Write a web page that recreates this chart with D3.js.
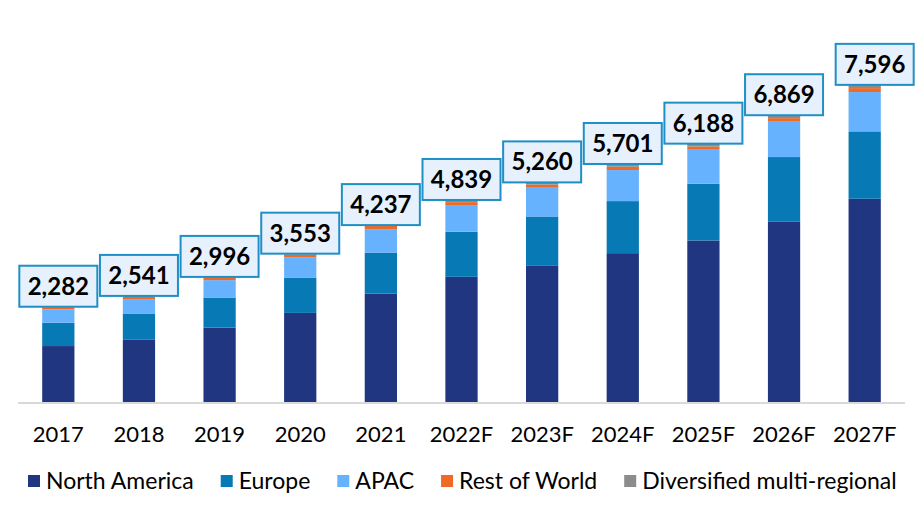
<!DOCTYPE html>
<html>
<head>
<meta charset="utf-8">
<script src="https://cdn.jsdelivr.net/npm/d3@7"></script>
<style>
  body { margin: 0; background: #fff; }
  svg text { font-family: Lato, "Open Sans", sans-serif; }
</style>
</head>
<body>
<div id="chart"></div>
<script>
// categories and series
const years = ["2017", "2018", "2019", "2020", "2021", "2022F", "2023F", "2024F", "2025F", "2026F", "2027F"];
const totals = [2282, 2541, 2996, 3553, 4237, 4839, 5260, 5701, 6188, 6869, 7596];
const northAmerica = [1340, 1490, 1782, 2134, 2597, 2998, 3261, 3565, 3868, 4316, 4868];
const europe = [560, 630, 720, 847, 983, 1079, 1183, 1247, 1359, 1551, 1614];
const apac = [320, 345, 417, 480, 560, 640, 688, 743, 815, 847, 942];
const restOfWorld = [40, 55, 60, 70, 75, 70, 75, 80, 80, 85, 95];
const diversified = [22, 21, 17, 22, 22, 52, 53, 66, 66, 70, 77];
const seriesNames = ["North America", "Europe", "APAC", "Rest of World", "Diversified multi-regional"];
const seriesColors = ["#203680", "#0779b4", "#66b2ff", "#ef6b25", "#8c8c8c"];

const width = 920, height = 530;

const svg = d3.select("#chart").append("svg")
    .attr("width", width)
    .attr("height", height);

const rows = years.map((y, i) => ({
    year: y,
    "North America": northAmerica[i],
    "Europe": europe[i],
    "APAC": apac[i],
    "Rest of World": restOfWorld[i],
    "Diversified multi-regional": diversified[i],
    total: totals[i]
}));

const x = d3.scaleBand()
    .domain(years)
    .range([18, 905])
    .paddingInner(0.6)
    .paddingOuter(0.3);

const y = d3.scaleLinear()
    .domain([0, 8000])
    .range([402, 68]);

const color = d3.scaleOrdinal().domain(seriesNames).range(seriesColors);

const stacked = d3.stack().keys(seriesNames)(rows);

// bars
svg.append("g").selectAll("g")
    .data(stacked)
    .enter().append("g")
    .attr("fill", d => color(d.key))
    .selectAll("rect")
    .data(d => d)
    .enter().append("rect")
    .attr("x", d => x(d.data.year))
    .attr("width", x.bandwidth())
    .attr("y", d => y(d[1]))
    .attr("height", d => y(d[0]) - y(d[1]));

// baseline
svg.append("line")
    .attr("x1", 18).attr("x2", 905)
    .attr("y1", y(0) + 1).attr("y2", y(0) + 1)
    .attr("stroke", "#d9d9d9")
    .attr("stroke-width", 2);

// x axis labels
const xAxis = svg.append("g")
    .attr("transform", `translate(0, ${y(0)})`)
    .call(d3.axisBottom(x).tickSize(0).tickPadding(24));
xAxis.select(".domain").remove();
xAxis.selectAll("text")
    .attr("font-size", 22)
    .attr("fill", "#000")
    .style("font-family", "Lato, sans-serif");

// total labels in boxes
const labels = svg.append("g").selectAll("g")
    .data(rows)
    .enter().append("g")
    .attr("transform", (d, i) => {
        // the last box sits a bit to the right in the original
        const nudge = i === rows.length - 1 ? 10 : 0;
        return `translate(${x(d.year) + x.bandwidth() / 2 + nudge}, ${y(d.total) - 21})`;
    });

labels.append("rect")
    .attr("class", "box")
    .attr("fill", "#e6f1fd")
    .attr("stroke", "#1f8fc6")
    .attr("stroke-width", 2);

labels.append("text")
    .attr("text-anchor", "middle")
    .attr("dy", "0.37em")
    .attr("font-size", 24)
    .attr("font-weight", "bold")
    .attr("fill", "#000")
    .text(d => d3.format(",")(d.total));

labels.each(function() {
    const g = d3.select(this);
    const w = g.select("text").node().getComputedTextLength();
    g.select("rect")
        .attr("x", -39)
        .attr("y", -20)
        .attr("width", Math.max(78, w + 16))
        .attr("height", 41);
});

// legend
const legend = svg.append("g")
    .attr("transform", "translate(28, 481)");

let lx = 0;
seriesNames.forEach((name, i) => {
    const item = legend.append("g").attr("transform", `translate(${lx}, 0)`);
    item.append("rect")
        .attr("x", 0).attr("y", -6)
        .attr("width", 12).attr("height", 12)
        .attr("fill", seriesColors[i]);
    const t = item.append("text")
        .attr("x", 18)
        .attr("dy", "0.36em")
        .attr("font-size", 23)
        .attr("fill", "#000")
        .text(name);
    lx += 18 + t.node().getComputedTextLength() + 27;
});
</script>
</body>
</html>
